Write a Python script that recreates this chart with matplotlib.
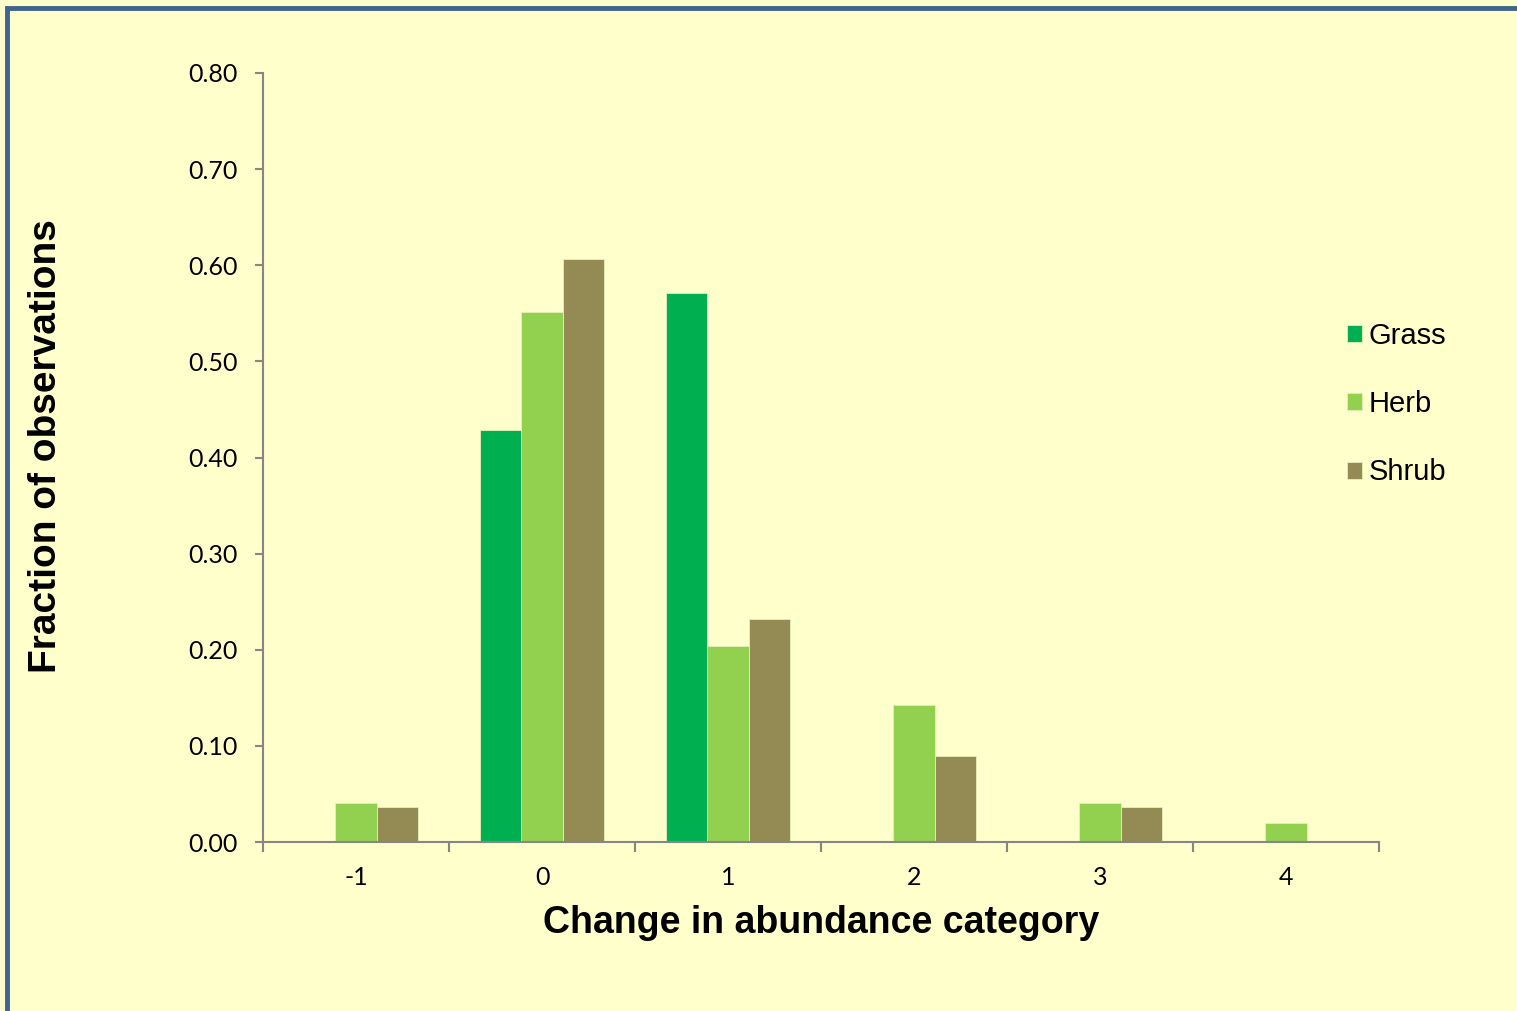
import matplotlib
matplotlib.use("Agg")
import matplotlib.pyplot as plt
from matplotlib.patches import Rectangle
import numpy as np

# Change-in-abundance categories and fraction of observations per growth form
categories = ["-1", "0", "1", "2", "3", "4"]
grass = [0.0, 0.429, 0.571, 0.0, 0.0, 0.0]
herb = [0.041, 0.551, 0.204, 0.143, 0.041, 0.020]
shrub = [0.036, 0.607, 0.232, 0.089, 0.036, 0.0]
series_names = ["Grass", "Herb", "Shrub"]
y_ticks = [0.0, 0.1, 0.2, 0.3, 0.4, 0.5, 0.6, 0.7, 0.8]

colors = ["#00B050", "#92D050", "#948A54"]
bg = "#FFFFCC"
axis_gray = "#868686"

W, H = 1517, 1011
fig = plt.figure(figsize=(W / 100, H / 100), dpi=100, facecolor=bg)

# outer frame (left and top edges visible)
fig.patches.append(Rectangle((7 / W, -0.05), 1.2, 1 - 7.5 / H + 0.05,
                             transform=fig.transFigure, fill=False,
                             edgecolor="#41638F", linewidth=3.5, zorder=10))

ax = fig.add_axes([263 / W, 1 - 842 / H, (1379 - 263) / W, (842 - 73) / H])
ax.set_facecolor(bg)

x = np.arange(len(categories))
bw = 0.222
for i, (vals, name, c) in enumerate(zip([grass, herb, shrub], series_names, colors)):
    ax.bar(x + (i - 1) * bw, vals, width=bw, color=c, label=name,
           edgecolor="#E8F0B8", linewidth=0.6, zorder=2)

ax.set_xlim(-0.5, len(categories) - 0.5)
ax.set_ylim(0, 0.8)

for s in ["top", "right"]:
    ax.spines[s].set_visible(False)
for s in ["left", "bottom"]:
    ax.spines[s].set_color(axis_gray)
    ax.spines[s].set_linewidth(1.5)

tick_font = dict(family="Lato", size=18)
ax.set_yticks(y_ticks)
ax.set_yticklabels([f"{v:.2f}" for v in y_ticks], fontdict=tick_font)
ax.tick_params(axis="y", direction="out", length=6, width=1.5, color=axis_gray, pad=12)

ax.set_xticks(np.arange(-0.5, len(categories)), minor=False)
ax.set_xticklabels([])
ax.set_xticks(x, minor=True)
ax.set_xticklabels(categories, minor=True, fontdict=tick_font)
ax.tick_params(axis="x", which="major", direction="out", length=7, width=1.5, color=axis_gray)
ax.tick_params(axis="x", which="minor", length=0, pad=17)

fig.text(821 / W, 1 - 923 / H, "Change in abundance category", family="Liberation Sans",
         fontsize=27, fontweight="bold", ha="center", va="center")
fig.text(46 / W, 1 - 446 / H, "Fraction of observations", family="Liberation Sans",
         fontsize=28, fontweight="bold", ha="center", va="center", rotation=90)

leg = fig.legend(loc="upper left", bbox_to_anchor=(1347 / W, 1 - 322 / H),
                 frameon=False, prop=dict(family="Liberation Sans", size=21),
                 handlelength=0.52, handleheight=0.52, handletextpad=0.22,
                 labelspacing=1.38, borderpad=0, borderaxespad=0)

fig.savefig("out.png", dpi=100, facecolor=bg)
